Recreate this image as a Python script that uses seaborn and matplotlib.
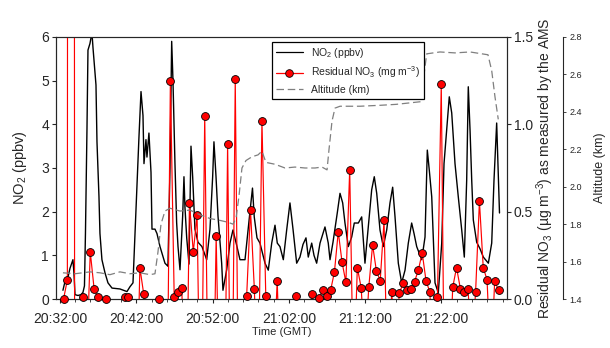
import numpy as np
import pandas as pd
import matplotlib
matplotlib.use("Agg")
import matplotlib.pyplot as plt
import seaborn as sns
from matplotlib.lines import Line2D
from matplotlib.ticker import MultipleLocator

sns.set_style("ticks")
plt.rcParams['font.family'] = ['Liberation Sans', 'DejaVu Sans']
plt.rcParams['mathtext.default'] = 'regular'

# time axis is minutes after 20:32:00 GMT
tick_minutes = [0, 10, 20, 30, 40, 50]
tick_labels = ["20:32:00", "20:42:00", "20:52:00", "21:02:00", "21:12:00", "21:22:00"]

# NO2 (ppbv)
no2_min = [0.39, 0.66, 1.05, 1.31, 1.70, 1.83, 1.97, 2.36, 2.75, 3.01, 3.21, 3.34, 3.54, 3.67,
           3.93, 4.19, 4.33, 4.72, 4.85, 5.11, 5.24, 5.50, 5.90, 6.29, 6.82, 7.86, 8.78, 9.17,
           9.57, 9.83, 10.09, 10.35, 10.62, 10.88, 11.01, 11.27, 11.40, 11.66, 11.93, 12.06,
           12.45, 12.71, 13.11, 13.76, 14.15, 14.42, 14.64, 14.81, 15.07, 15.29, 15.47, 15.73,
           16.08, 16.25, 16.38, 16.61, 16.91, 17.17, 17.39, 17.69, 18.09, 18.61, 19.23, 19.66,
           20.01, 20.18, 20.45, 20.71, 21.19, 21.36, 21.85, 22.28, 22.67, 23.13, 23.59, 24.25,
           24.47, 24.90, 25.23, 25.46, 25.82, 26.21, 26.87, 27.30, 27.75, 28.18, 28.48, 28.83,
           29.27, 29.71, 30.14, 30.54, 31.02, 31.45, 31.85, 32.24, 32.54, 32.99, 33.29, 33.64,
           34.08, 34.73, 35.16, 35.39, 35.78, 36.34, 36.70, 37.05, 37.35, 37.79, 38.23, 38.57,
           39.10, 39.54, 39.97, 40.37, 40.85, 41.19, 41.51, 41.94, 42.37, 42.82, 43.25, 43.60,
           43.91, 44.34, 44.78, 45.22, 45.65, 46.09, 46.40, 46.75, 47.41, 47.84, 48.14, 48.40,
           48.72, 49.15, 49.58, 50.03, 50.33, 50.68, 51.02, 51.34, 51.55, 51.77, 52.20, 52.65,
           52.99, 53.30, 53.51, 53.74, 53.96, 54.17, 54.61, 55.05, 55.48, 56.14, 56.58, 56.88,
           57.23, 57.44, 57.60]
no2_ppbv = [0.2, 0.4, 0.5, 0.7, 0.9, 0.6, 0.1, 0.08, 0.1, 0.15, 0.3, 1.5, 3.9, 5.7,
            5.85, 6.1, 5.75, 4.9, 3.6, 2.35, 1.5, 0.9, 0.6, 0.37, 0.25, 0.23, 0.17, 0.28,
            0.37, 1.5, 2.65, 3.7, 4.75, 4.2, 3.1, 3.65, 3.25, 3.8, 2.9, 1.6,
            1.6, 1.5, 1.2, 0.82, 0.75, 3.0, 5.9, 5.0, 3.1, 1.75, 1.2, 0.67,
            1.9, 2.8, 2.1, 1.4, 0.8, 3.5, 2.8, 1.6, 1.3, 1.2, 0.9, 1.6,
            2.8, 3.6, 2.8, 1.9, 0.82, 0.2, 0.67, 1.28, 1.58, 1.25, 0.9, 0.9,
            1.28, 2.0, 2.54, 1.88, 1.4, 1.28, 0.82, 0.66, 1.28, 1.69, 1.28, 1.2,
            0.9, 1.58, 2.2, 1.6, 0.82, 0.96, 1.25, 1.4, 0.96, 1.28, 1.0, 0.82,
            1.28, 1.65, 1.28, 0.9, 1.3, 1.97, 2.42, 2.2, 1.74, 1.2, 1.42, 1.74,
            1.74, 1.88, 0.82, 1.58, 2.5, 2.8, 2.42, 1.58, 1.2, 1.58, 2.2, 2.56,
            1.88, 0.82, 0.37, 0.66, 1.28, 1.74, 1.5, 1.2, 0.9, 1.42, 3.41, 2.95,
            2.34, 0.37, 0.14, 1.28, 3.1, 3.87, 4.63, 4.26, 3.71, 3.1, 2.34, 1.58,
            0.96, 2.72, 4.86, 3.87, 2.72, 1.81, 1.3, 1.15, 0.96, 0.82, 1.28, 2.72,
            4.03, 2.88, 1.97]

# Residual NO3, one sample every 30 s starting 20:32:28 (values off scale are clipped)
no3_start = 0.47
no3_step = 0.5
no3_ugm3 = [0.0, 0.11, 40.0, -5.0, -1.0, 0.01, -0.4, 0.27, 0.06, 0.01,
            -0.1, 0.0, -0.3, -0.6, -0.5, -0.2, 0.01, 0.01, -0.4, -0.8,
            0.18, 0.03, -0.5, -0.3, -0.6, 0.0, -0.5, -1.0, 1.25, 0.01,
            0.04, 0.065, -1.0, 0.55, 0.27, 0.48, -1.0, 1.05, -0.8, -1.0,
            0.36, -0.8, -1.2, 0.89, -1.2, 1.26, -1.0, -0.6, 0.02, 0.51,
            0.06, -0.6, 1.02, 0.02, -0.5, -0.4, 0.105, -0.6, -0.3, -0.7,
            -0.4, 0.02, -0.5, -0.3, -0.4, 0.03, -0.2, 0.005, 0.05, 0.02,
            0.05, 0.155, 0.385, 0.21, 0.095, 0.74, -0.5, 0.18, 0.065, -0.3,
            0.067, 0.31, 0.16, 0.105, 0.45, -0.6, 0.042, -0.3, 0.033, 0.09,
            0.05, 0.06, 0.1, 0.166, 0.265, 0.105, 0.04, -0.4, 0.01, 1.23,
            -1.0, -0.5, 0.067, 0.18, 0.06, 0.042, 0.06, -0.3, 0.042, 0.56,
            0.18, 0.11, -0.4, 0.105, 0.05]

# Altitude (km)
alt_min = [0.39, 1.97, 3.93, 5.24, 6.55, 7.86, 9.17, 10.48, 11.80, 12.45, 12.84, 13.24,
           13.76, 14.42, 15.73, 17.04, 18.35, 19.66, 20.97, 22.02, 22.67, 23.07, 23.46,
           23.85, 24.38, 25.16, 25.95, 26.47, 26.99, 28.18, 29.49, 30.80, 32.11, 33.42,
           34.34, 35.00, 35.26, 35.65, 36.04, 36.70, 39.32, 41.94, 44.04, 47.44, 47.71,
           48.06, 49.80, 51.77, 53.74, 56.09, 56.58, 57.01, 57.44]
alt_km = [1.54, 1.535, 1.545, 1.54, 1.53, 1.545, 1.535, 1.54, 1.53, 1.535, 1.65, 1.80,
          1.87, 1.885, 1.87, 1.875, 1.85, 1.83, 1.82, 1.81, 1.80, 1.83, 1.95,
          2.10, 2.14, 2.16, 2.17, 2.19, 2.13, 2.12, 2.10, 2.105, 2.10, 2.10,
          2.105, 2.09, 2.2, 2.35, 2.42, 2.43, 2.43, 2.435, 2.44, 2.455, 2.6,
          2.71, 2.72, 2.715, 2.72, 2.705, 2.62, 2.48, 2.36]

no3 = pd.DataFrame({'t': no3_start + no3_step * np.arange(len(no3_ugm3)), 'v': no3_ugm3})
no3_vis = no3[(no3['v'] >= 0) & (no3['v'] <= 1.5)]

fig = plt.figure(figsize=(6.1, 3.48), dpi=100)
ax = fig.add_axes([0.0918, 0.1408, 0.7393, 0.7529])
ax2 = ax.twinx()
ax3 = ax.twinx()

sns.lineplot(x=no2_min, y=no2_ppbv, ax=ax, color='black', lw=1.0, sort=False)
sns.lineplot(x=no3['t'], y=no3['v'], ax=ax2, color='red', lw=0.85, sort=False)
sns.scatterplot(x=no3_vis['t'], y=no3_vis['v'], ax=ax2, color='red', edgecolor='black',
                s=32, linewidth=0.6, zorder=4, clip_on=False)
sns.lineplot(x=alt_min, y=alt_km, ax=ax3, color='#7f7f7f', lw=0.9, sort=False,
             linestyle=(0, (6, 3)))

ax.set_xlim(-0.52, 58.58)
ax.set_ylim(0, 6)
ax2.set_ylim(0, 1.5)
ax3.set_ylim(1.4, 2.8)

ax.set_xticks(tick_minutes)
ax.set_xticklabels(tick_labels)
ax.xaxis.set_minor_locator(MultipleLocator(2))
ax.set_yticks(range(0, 7))
ax2.set_yticks([0, 0.5, 1.0, 1.5])
ax2.set_yticklabels(["0.0", "0.5", "1.0", "1.5"])
ax3.set_yticks(np.arange(1.4, 2.81, 0.2))
ax3.set_yticklabels(["%.1f" % v for v in np.arange(1.4, 2.81, 0.2)])

ax.tick_params(axis='y', which='major', labelsize=10, length=3, width=0.8, direction='out', pad=2)
ax.tick_params(axis='x', which='major', labelsize=10, length=3, width=0.8, direction='out', pad=6)
ax.tick_params(axis='x', which='minor', length=2, width=0.6)
ax2.tick_params(axis='y', labelsize=10, length=3, width=0.8, pad=2)
ax3.tick_params(axis='y', labelsize=6.5, length=2.5, width=0.6, pad=2)

ax3.spines['right'].set_position(('axes', 1.124))
for s in ['top', 'bottom', 'left']:
    ax3.spines[s].set_visible(False)
for a in (ax, ax2, ax3):
    for s in a.spines.values():
        s.set_linewidth(0.8)
ax.spines['top'].set_color('#555555')

ax.set_xlabel('Time (GMT)', fontsize=8, labelpad=1)
ax.set_ylabel('NO$_2$ (ppbv)', fontsize=10.5, labelpad=9)
ax2.set_ylabel('Residual NO$_3$ (µg m$^{-3}$) as measured by the AMS', fontsize=10, labelpad=1)
ax3.set_ylabel('Altitude (km)', fontsize=9, labelpad=9)

handles = [Line2D([], [], color='black', lw=0.9),
           Line2D([], [], color='red', lw=0.9, marker='o', mfc='red', mec='black', ms=5.5, mew=0.6),
           Line2D([], [], color='#7f7f7f', lw=0.9, linestyle=(0, (6, 3)))]
labels = ['NO$_2$ (ppbv)', 'Residual NO$_3$ (mg m$^{-3}$)', 'Altitude (km)']
leg = fig.legend(handles, labels, loc='upper left', bbox_to_anchor=(0.4454, 0.880),
                 frameon=True, fancybox=False, edgecolor='black', framealpha=1,
                 fontsize=7.5, handlelength=2.6, borderaxespad=0, labelspacing=0.45)
leg.get_frame().set_linewidth(0.9)

fig.savefig('out.png', dpi=100)
